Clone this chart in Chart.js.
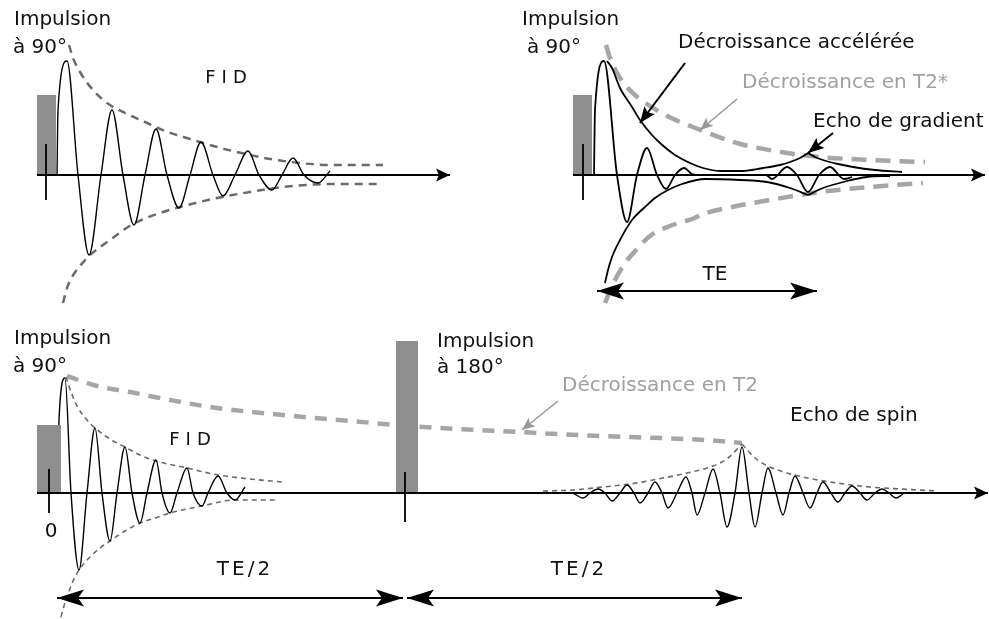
<!DOCTYPE html>
<html lang="fr">
<head>
<meta charset="utf-8">
<script src="https://cdn.jsdelivr.net/npm/chart.js@4.4.1/dist/chart.umd.min.js"></script>
<style>
html, body { margin: 0; padding: 0; background: #fff; }
canvas { display: block; }
</style>
</head>
<body>
<canvas id="schema" width="989" height="619"></canvas>
<script>
// Toutes les valeurs sont dans le repère du schéma (x vers la droite, y vers le bas)

// ===== Panneau 1 : FID =====
const impulsion1 = [[37, 95], [56, 95], [56, 175], [37, 175], [37, 95]];
const axe1 = [[37, 175], [450, 175]];
const repere1 = [[46, 144], [46, 200]];
const signalFid1 = [
    [57, 175], [58, 110], [67, 61], [78, 175], [89, 255], [101, 175], [112, 110], [123, 175],
    [134, 225], [145, 175], [156, 129], [167, 175], [179, 208], [190, 175], [201, 142], [213, 175],
    [223, 196], [235, 175], [248, 151], [259, 175], [272, 190], [282, 175], [293, 158], [304, 175],
    [318, 183], [330, 171]
];
const enveloppeHaut1 = [
    [69, 45], [73, 58], [80, 72], [93, 90], [107, 103], [125, 113], [145, 122], [165, 131],
    [190, 139], [217, 147], [250, 155], [283, 161], [333, 165], [383, 165]
];
const enveloppeBas1 = [
    [63, 303], [67, 288], [72, 277], [80, 266], [89, 256], [110, 240], [133, 224], [160, 213],
    [180, 207], [217, 198], [250, 192], [283, 187], [333, 184], [378, 184]
];

// ===== Panneau 2 : écho de gradient =====
const impulsion2 = [[573, 95], [592, 95], [592, 175], [573, 175], [573, 95]];
const axe2 = [[573, 175], [985, 175]];
const repere2 = [[583, 144], [583, 200]];
const signalGradient = [
    [594, 175], [595, 110], [604, 61], [617, 175], [627, 222], [637, 175], [647, 148], [657, 175],
    [666, 189], [675, 175], [684, 168], [692, 174], [700, 175], [766, 175], [772, 179], [787, 167],
    [797, 175], [808, 192], [819, 175], [830, 167], [844, 179], [852, 177]
];
const accelHautA = [
    [607, 61], [612, 68], [620, 88], [632, 107], [640, 120], [652, 135], [660, 143], [675, 155],
    [690, 163], [703, 168], [720, 171], [740, 171], [763, 168], [780, 165], [790, 162], [800, 158], [808, 153]
];
const accelHautB = [[808, 153], [815, 157], [823, 160], [838, 164], [853, 167], [875, 170], [902, 172]];
const accelBasA = [
    [605, 283], [608, 270], [612, 257], [620, 240], [632, 220], [645, 207], [655, 198], [668, 190],
    [682, 184], [705, 179], [740, 180], [767, 182], [790, 188], [808, 195]
];
const accelBasB = [[808, 195], [823, 188], [847, 181], [867, 177], [890, 176]];
const t2EtoileHaut = [
    [606, 45], [610, 58], [617, 73], [626, 86], [635, 95], [647, 104], [665, 115], [693, 127],
    [737, 143], [787, 153], [820, 157], [870, 160], [925, 162]
];
const t2EtoileBas = [
    [605, 303], [609, 293], [615, 280], [625, 263], [637, 249], [650, 236], [670, 226], [692, 219],
    [703, 214], [737, 206], [770, 200], [820, 192], [870, 187], [923, 183]
];
const flecheTE = [[597, 291], [817, 291]];

// ===== Panneau 3 : écho de spin =====
const impulsion90 = [[37, 425], [61, 425], [61, 493], [37, 493], [37, 425]];
const impulsion180 = [[396, 341], [418, 341], [418, 493], [396, 493], [396, 341]];
const axe3 = [[37, 493], [988, 493]];
const repere3a = [[49, 469], [49, 513]];
const repere3b = [[405, 472], [405, 522]];
const signalFid3 = [
    [58, 493], [59, 420], [65, 378], [71, 493], [79, 570], [87, 493], [95, 428], [102, 493],
    [110, 541], [117, 493], [125, 447], [132, 493], [140, 523], [147, 493], [156, 460], [162, 493],
    [170, 513], [177, 493], [187, 468], [193, 493], [202, 506], [208, 493], [218, 476], [227, 493],
    [235, 500], [245, 487]
];
const enveloppeHaut3 = [
    [66, 377], [71, 392], [77, 406], [87, 420], [95, 428], [110, 439], [125, 447], [140, 455],
    [156, 461], [187, 468], [218, 475], [250, 479], [282, 482]
];
const enveloppeBas3 = [
    [61, 617], [64, 606], [68, 594], [73, 581], [79, 570], [90, 557], [100, 548], [110, 541],
    [125, 531], [140, 523], [155, 518], [170, 513], [202, 506], [235, 500], [278, 500]
];
const decroissanceT2 = [
    [67, 376], [97, 386], [130, 392], [170, 400], [217, 408], [283, 415], [350, 421], [397, 425],
    [423, 427], [518, 432], [600, 436], [705, 440], [742, 443]
];
const signalSpin = [
    [573, 493], [583, 498], [590, 493], [598, 489], [605, 493], [612, 501], [620, 493], [627, 485],
    [634, 493], [640, 503], [648, 493], [655, 482], [662, 493], [668, 508], [677, 493], [686, 477],
    [692, 493], [697, 515], [705, 493], [713, 469], [720, 493], [727, 527], [735, 493], [742, 447],
    [749, 493], [755, 527], [762, 493], [768, 468], [776, 493], [783, 515], [789, 493], [795, 476],
    [803, 493], [810, 508], [817, 493], [823, 482], [831, 493], [838, 502], [845, 493], [852, 486],
    [860, 493], [867, 500], [875, 493], [882, 489], [889, 493], [896, 498], [903, 494]
];
const echoMontee = [
    [543, 491], [573, 490], [603, 487], [630, 484], [653, 480], [687, 473], [713, 466], [728, 458], [742, 444]
];
const echoDescente = [[742, 444], [755, 458], [770, 467], [803, 477], [837, 483], [870, 487], [900, 489], [938, 491]];
const flecheTE2a = [[57, 598], [403, 598]];
const flecheTE2b = [[407, 598], [742, 598]];

// flèches des légendes
const flecheAccel = [[685, 63], [640, 123]];
const flecheT2Etoile = [[737, 99], [700, 130]];
const flecheGradient = [[833, 133], [808, 153]];
const flecheT2 = [[558, 401], [522, 430]];

// textes du schéma
const textes = [
    ['Impulsion', 14, 20], ['à 90°', 13, 48], ['FID', 229, 78],
    ['Impulsion', 522, 20], ['à 90°', 527, 48],
    ['Décroissance accélérée', 678, 43], ['Décroissance en T2*', 742, 83],
    ['Echo de gradient', 813, 122], ['TE', 715, 275],
    ['Impulsion', 14, 339], ['à 90°', 13, 367], ['FID', 193, 440], ['0', 51, 532],
    ['Impulsion', 437, 342], ['à 180°', 437, 368], ['Décroissance en T2', 562, 386],
    ['Echo de spin', 790, 416], ['TE/2', 245, 570], ['TE/2', 579, 570]
];

// ===== styles =====
const NOIR = '#000';
const GRIS_CLAIR = '#a6a6a6';
const GRIS_FONCE = '#6a6a6a';
const GRIS_RECT = '#8e8e8e';

const styleCourbe = { cubicInterpolationMode: 'monotone', borderWidth: 1.4 };
const styleAccel = { cubicInterpolationMode: 'monotone', borderWidth: 1.8 };
const styleEnveloppe = { cubicInterpolationMode: 'monotone', borderColor: GRIS_FONCE, borderWidth: 2.5, borderDash: [8, 6] };
const styleEnveloppeFine = { cubicInterpolationMode: 'monotone', borderColor: GRIS_FONCE, borderWidth: 1.6, borderDash: [5, 4] };
const styleDecroissance = { cubicInterpolationMode: 'monotone', borderColor: GRIS_CLAIR, borderWidth: 4.5, borderDash: [15, 9] };
const styleDecroissance3 = { cubicInterpolationMode: 'monotone', borderColor: GRIS_CLAIR, borderWidth: 4.5, borderDash: [12, 9] };
const styleRect = { fill: 'shape', backgroundColor: GRIS_RECT, borderColor: GRIS_RECT, borderWidth: 0 };
const styleAxe = { borderWidth: 2 };
const styleRepere = { borderWidth: 1.8 };
const styleCote = { borderWidth: 2 };
const styleLegende = { borderWidth: 2 };
const styleLegendeGrise = { borderWidth: 1.6, borderColor: '#999' };

// têtes de flèches : [extrémité, point d'où vient la flèche, type]
const tetes = [
    [axe1[1], axe1[0], 'axe'], [axe2[1], axe2[0], 'axe'], [axe3[1], axe3[0], 'axe'],
    [flecheTE[0], flecheTE[1], 'cote'], [flecheTE[1], flecheTE[0], 'cote'],
    [flecheTE2a[0], flecheTE2a[1], 'cote'], [flecheTE2a[1], flecheTE2a[0], 'cote'],
    [flecheTE2b[0], flecheTE2b[1], 'cote'], [flecheTE2b[1], flecheTE2b[0], 'cote'],
    [flecheAccel[1], flecheAccel[0], 'legende'], [flecheGradient[1], flecheGradient[0], 'legende'],
    [flecheT2Etoile[1], flecheT2Etoile[0], 'grise'], [flecheT2[1], flecheT2[0], 'grise']
];
const formeTetes = {
    axe: { long: 14, demi: 6.5, creux: 3, couleur: NOIR },
    cote: { long: 27, demi: 8.5, creux: 6, couleur: NOIR },
    legende: { long: 16, demi: 6.5, creux: 3, couleur: NOIR },
    grise: { long: 13, demi: 5.5, creux: 3, couleur: '#999' }
};

// ===== construction des jeux de données (dans l'ordre de dessin, du fond vers le dessus) =====
const jeux = [];
function trait(liste, style) {
    jeux.push(Object.assign({
        data: liste.map(p => ({ x: p[0], y: p[1] })),
        showLine: true,
        pointRadius: 0,
        borderColor: NOIR,
        borderWidth: 1.5,
        fill: false,
        tension: 0,
        clip: false
    }, style));
}

trait(t2EtoileHaut, styleDecroissance);
trait(t2EtoileBas, styleDecroissance);
trait(decroissanceT2, styleDecroissance3);
trait(enveloppeHaut1, styleEnveloppe);
trait(enveloppeBas1, styleEnveloppe);
trait(enveloppeHaut3, styleEnveloppeFine);
trait(enveloppeBas3, styleEnveloppeFine);
trait(echoMontee, styleEnveloppeFine);
trait(echoDescente, styleEnveloppeFine);
trait(signalFid1, styleCourbe);
trait(signalGradient, styleAccel);
trait(accelHautA, styleAccel);
trait(accelHautB, styleAccel);
trait(accelBasA, styleAccel);
trait(accelBasB, styleAccel);
trait(signalFid3, styleCourbe);
trait(signalSpin, styleCourbe);
trait(impulsion1, styleRect);
trait(impulsion2, styleRect);
trait(impulsion90, styleRect);
trait(impulsion180, styleRect);
trait(axe1, styleAxe);
trait(axe2, styleAxe);
trait(axe3, styleAxe);
trait(repere1, styleRepere);
trait(repere2, styleRepere);
trait(repere3a, styleRepere);
trait(repere3b, styleRepere);
trait(flecheTE, styleCote);
trait(flecheTE2a, styleCote);
trait(flecheTE2b, styleCote);
trait(flecheAccel, styleLegende);
trait(flecheGradient, styleLegende);
trait(flecheT2Etoile, styleLegendeGrise);
trait(flecheT2, styleLegendeGrise);

// Chart.js dessine en premier les jeux d'ordre le plus grand
jeux.forEach((j, i) => { j.order = jeux.length - i; });

// plugin : têtes de flèches + textes
const decor = {
    id: 'decor',
    afterDatasetsDraw(chart) {
        const ctx = chart.ctx;
        const sx = chart.scales.x, sy = chart.scales.y;
        ctx.save();
        tetes.forEach(([bout, depart, type]) => {
            const f = formeTetes[type];
            const bx = sx.getPixelForValue(bout[0]), by = sy.getPixelForValue(bout[1]);
            const dx = bx - sx.getPixelForValue(depart[0]), dy = by - sy.getPixelForValue(depart[1]);
            const n = Math.hypot(dx, dy);
            const ux = dx / n, uy = dy / n;
            ctx.fillStyle = f.couleur;
            ctx.beginPath();
            ctx.moveTo(bx, by);
            ctx.lineTo(bx - ux * f.long - uy * f.demi, by - uy * f.long + ux * f.demi);
            ctx.lineTo(bx - ux * (f.long - f.creux), by - uy * (f.long - f.creux));
            ctx.lineTo(bx - ux * f.long + uy * f.demi, by - uy * f.long - ux * f.demi);
            ctx.closePath();
            ctx.fill();
        });
        ctx.restore();
    },
    afterDraw(chart) {
        const ctx = chart.ctx;
        const sx = chart.scales.x, sy = chart.scales.y;
        ctx.save();
        ctx.textBaseline = 'middle';
        textes.forEach(([t, x, y]) => {
            const centre = t === 'FID' || t === 'TE' || t === 'TE/2' || t === '0';
            const gris = t.startsWith('Décroissance en');
            ctx.fillStyle = gris ? '#a0a0a0' : '#111';
            ctx.textAlign = centre ? 'center' : 'left';
            if (t === 'FID') {
                ctx.font = '18px "DejaVu Sans"';
                ctx.letterSpacing = '6px';
            } else if (t === 'TE/2') {
                ctx.font = '20px "DejaVu Sans"';
                ctx.letterSpacing = '3px';
            } else {
                ctx.font = '20px "DejaVu Sans"';
                ctx.letterSpacing = '0px';
            }
            ctx.fillText(t, sx.getPixelForValue(x), sy.getPixelForValue(y));
        });
        ctx.restore();
    }
};

new Chart(document.getElementById('schema'), {
    type: 'scatter',
    data: { datasets: jeux },
    options: {
        responsive: false,
        animation: false,
        layout: { padding: 0 },
        scales: {
            x: { type: 'linear', min: 0, max: 989, display: false },
            y: { type: 'linear', min: 0, max: 619, reverse: true, display: false }
        },
        plugins: {
            legend: { display: false },
            tooltip: { enabled: false }
        }
    },
    plugins: [decor]
});
</script>
</body>
</html>
